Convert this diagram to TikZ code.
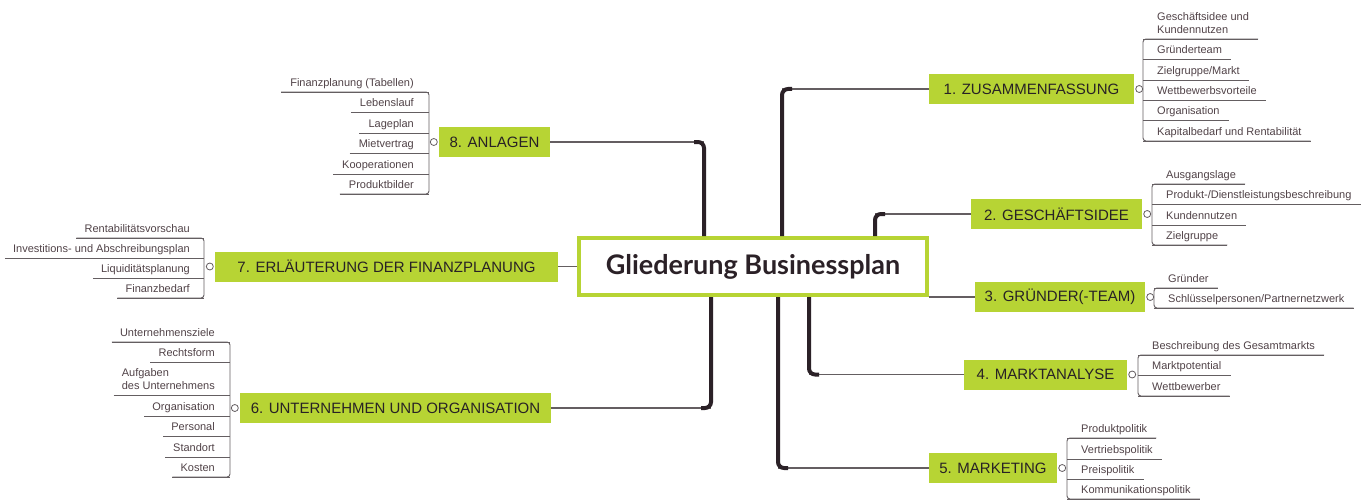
\documentclass[tikz,border=0pt]{standalone}
\usepackage{fontspec}
\setmainfont{Liberation Sans}
\newfontfamily\titlefont{Lato}
\definecolor{lime}{RGB}{183,212,52}
\definecolor{trunkdark}{RGB}{43,33,39}
\definecolor{twiggray}{RGB}{100,94,97}
\definecolor{leaftext}{RGB}{80,66,71}
\definecolor{topictext}{RGB}{40,34,37}

\begin{document}
\begin{tikzpicture}[x=1pt, y=-1pt,
    title node/.style={draw=lime, line width=4pt, fill=white, minimum width=348pt, minimum height=57pt, font=\titlefont\bfseries\fontsize{27}{30}\selectfont, text=trunkdark},
    topic node/.style={fill=lime, minimum height=30pt, inner sep=0pt, font=\fontsize{15}{18}\selectfont, text=topictext},
    leaf right/.style={anchor=south west, inner sep=0pt, text depth=5.5pt, align=left, font=\fontsize{11}{13}\selectfont, text=leaftext},
    leaf left/.style={leaf right, anchor=south east},
    knob/.style={circle, draw=twiggray, fill=white, line width=0.8pt, inner sep=0pt, minimum size=7pt},
    trunk line/.style={draw=trunkdark, line width=4pt, rounded corners=6pt},
    branch line/.style={draw=twiggray, line width=1.6pt},
    twig line/.style={draw=twiggray, line width=0.9pt, rounded corners=3pt}
]
\useasboundingbox (0,0) rectangle (1372,500);

%================CENTRE================
\node[title node] (title) at (753,266.5) {Gliederung Businessplan};

% roots of the trunks on the title box
\coordinate (R1) at ([xshift=29pt]title.north);
\coordinate (R2) at ([xshift=122pt]title.north);
\coordinate (R4) at ([xshift=56pt]title.south);
\coordinate (R5) at ([xshift=25pt]title.south);
\coordinate (R6) at ([xshift=-42pt]title.south);
\coordinate (R8) at ([xshift=-49pt]title.north);

% --- 1. Zusammenfassung ---
\node[topic node, minimum width=205pt] (T1) at (1031.5,89) {1. ZUSAMMENFASSUNG};
\draw[branch line] (R1 |- T1.west) -- (T1.west);
\draw[trunk line] (R1) |- ([xshift=10pt]R1 |- T1.west);
\foreach \y/\txt [count=\c] in {39/{Geschäftsidee und\\Kundennutzen}, 59/{Gründerteam}, 80/{Zielgruppe/Markt},
    100/{Wettbewerbsvorteile}, 120/{Organisation}, 141/{Kapitalbedarf und Rentabilität}} {
    \node[leaf right] (Z\c) at (1157,\y) {\txt};
    \draw[twig line] ([xshift=-14pt]Z\c.south west) -- ([xshift=9pt]Z\c.south east);
}
\draw[twig line] ([xshift=9pt]Z1.south east) -- ([xshift=-14pt]Z1.south west) -- ([xshift=-14pt]Z6.south west) -- ([xshift=9pt]Z6.south east);
\node[knob] (K1) at ([xshift=5pt]T1.east) {};

% --- 2. Geschaeftsidee ---
\node[topic node, minimum width=171pt] (T2) at (1056.5,214) {2. GESCHÄFTSIDEE};
\draw[branch line] (R2 |- T2.west) -- (T2.west);
\draw[trunk line] (R2) |- ([xshift=10pt]R2 |- T2.west);
\foreach \y/\txt [count=\c] in {184/{Ausgangslage}, 204/{Produkt-/Dienstleistungsbeschreibung}, 225/{Kundennutzen}, 245/{Zielgruppe}} {
    \node[leaf right] (G\c) at (1166,\y) {\txt};
    \draw[twig line] ([xshift=-14pt]G\c.south west) -- ([xshift=9pt]G\c.south east);
}
\draw[twig line] ([xshift=9pt]G1.south east) -- ([xshift=-14pt]G1.south west) -- ([xshift=-14pt]G4.south west) -- ([xshift=9pt]G4.south east);
\node[knob] (K2) at ([xshift=5pt]T2.east) {};

% --- 3. Gruender ---
\node[topic node, minimum width=170pt] (T3) at (1060,297) {3. GRÜNDER(-TEAM)};
\draw[branch line] (title.south east) -- (T3.west);
\foreach \y/\txt [count=\c] in {288/{Gründer}, 308/{Schlüsselpersonen/Partnernetzwerk}} {
    \node[leaf right] (P\c) at (1168,\y) {\txt};
    \draw[twig line] ([xshift=-14pt]P\c.south west) -- ([xshift=9pt]P\c.south east);
}
\draw[twig line] ([xshift=9pt]P1.south east) -- ([xshift=-14pt]P1.south west) -- ([xshift=-14pt]P2.south west) -- ([xshift=9pt]P2.south east);
\node[knob] (K3) at ([xshift=5pt]T3.east) {};

% --- 4. Marktanalyse ---
\node[topic node, minimum width=163pt] (T4) at (1045.5,374.5) {4. MARKTANALYSE};
\draw[branch line] (R4 |- T4.west) -- (T4.west);
\draw[trunk line] (R4) |- ([xshift=10pt]R4 |- T4.west);
\foreach \y/\txt [count=\c] in {355/{Beschreibung des Gesamtmarkts}, 375/{Marktpotential}, 396/{Wettbewerber}} {
    \node[leaf right] (M\c) at (1152,\y) {\txt};
    \draw[twig line] ([xshift=-14pt]M\c.south west) -- ([xshift=9pt]M\c.south east);
}
\draw[twig line] ([xshift=9pt]M1.south east) -- ([xshift=-14pt]M1.south west) -- ([xshift=-14pt]M3.south west) -- ([xshift=9pt]M3.south east);
\node[knob] (K4) at ([xshift=5pt]T4.east) {};

% --- 5. Marketing ---
\node[topic node, minimum width=128pt] (T5) at (993,468) {5. MARKETING};
\draw[branch line] (R5 |- T5.west) -- (T5.west);
\draw[trunk line] (R5) |- ([xshift=10pt]R5 |- T5.west);
\foreach \y/\txt [count=\c] in {438/{Produktpolitik}, 459/{Vertriebspolitik}, 479/{Preispolitik}, 499/{Kommunikationspolitik}} {
    \node[leaf right] (V\c) at (1081,\y) {\txt};
    \draw[twig line] ([xshift=-14pt]V\c.south west) -- ([xshift=9pt]V\c.south east);
}
\draw[twig line] ([xshift=9pt]V1.south east) -- ([xshift=-14pt]V1.south west) -- ([xshift=-14pt]V4.south west) -- ([xshift=9pt]V4.south east);
\node[knob] (K5) at ([xshift=5pt]T5.east) {};

% --- 6. Unternehmen ---
\node[topic node, minimum width=311pt] (T6) at (395.5,408) {6. UNTERNEHMEN UND ORGANISATION};
\draw[branch line] (R6 |- T6.east) -- (T6.east);
\draw[trunk line] (R6) |- ([xshift=-10pt]R6 |- T6.east);
\foreach \y/\txt [count=\c] in {342/{Unternehmensziele}, 362/{Rechtsform}, 395/{Aufgaben\\des Unternehmens}, 416/{Organisation},
    436/{Personal}, 457/{Standort}, 477/{Kosten}} {
    \node[leaf left] (U\c) at (215,\y) {\txt};
    \draw[twig line] ([xshift=-8pt]U\c.south west) -- ([xshift=15pt]U\c.south east);
}
\draw[twig line] ([xshift=-8pt]U1.south west) -- ([xshift=15pt]U1.south east) -- ([xshift=15pt]U7.south east) -- ([xshift=-8pt]U7.south west);
\node[knob] (K6) at ([xshift=-5pt]T6.west) {};

% --- 7. Finanzplanung ---
\node[topic node, minimum width=343pt] (T7) at (386.5,266.5) {7. ERLÄUTERUNG DER FINANZPLANUNG};
\draw[branch line] (T7.east) -- (title.west);
\foreach \y/\txt [count=\c] in {238/{Rentabilitätsvorschau}, 258/{Investitions- und Abschreibungsplan}, 278/{Liquiditätsplanung}, 298/{Finanzbedarf}} {
    \node[leaf left] (F\c) at (190,\y) {\txt};
    \draw[twig line] ([xshift=-8pt]F\c.south west) -- ([xshift=14pt]F\c.south east);
}
\draw[twig line] ([xshift=-8pt]F1.south west) -- ([xshift=14pt]F1.south east) -- ([xshift=14pt]F4.south east) -- ([xshift=-8pt]F4.south west);
\node[knob] (K7) at ([xshift=-5pt]T7.west) {};

% --- 8. Anlagen ---
\node[topic node, minimum width=111pt] (T8) at (494.5,142) {8. ANLAGEN};
\draw[branch line] (R8 |- T8.east) -- (T8.east);
\draw[trunk line] (R8) |- ([xshift=-10pt]R8 |- T8.east);
\foreach \y/\txt [count=\c] in {92/{Finanzplanung (Tabellen)}, 112/{Lebenslauf}, 133/{Lageplan}, 153/{Mietvertrag},
    174/{Kooperationen}, 194/{Produktbilder}} {
    \node[leaf left] (A\c) at (414,\y) {\txt};
    \draw[twig line] ([xshift=-9pt]A\c.south west) -- ([xshift=15pt]A\c.south east);
}
\draw[twig line] ([xshift=-9pt]A1.south west) -- ([xshift=15pt]A1.south east) -- ([xshift=15pt]A6.south east) -- ([xshift=-9pt]A6.south west);
\node[knob] (K8) at ([xshift=-5pt]T8.west) {};

\end{tikzpicture}
\end{document}
